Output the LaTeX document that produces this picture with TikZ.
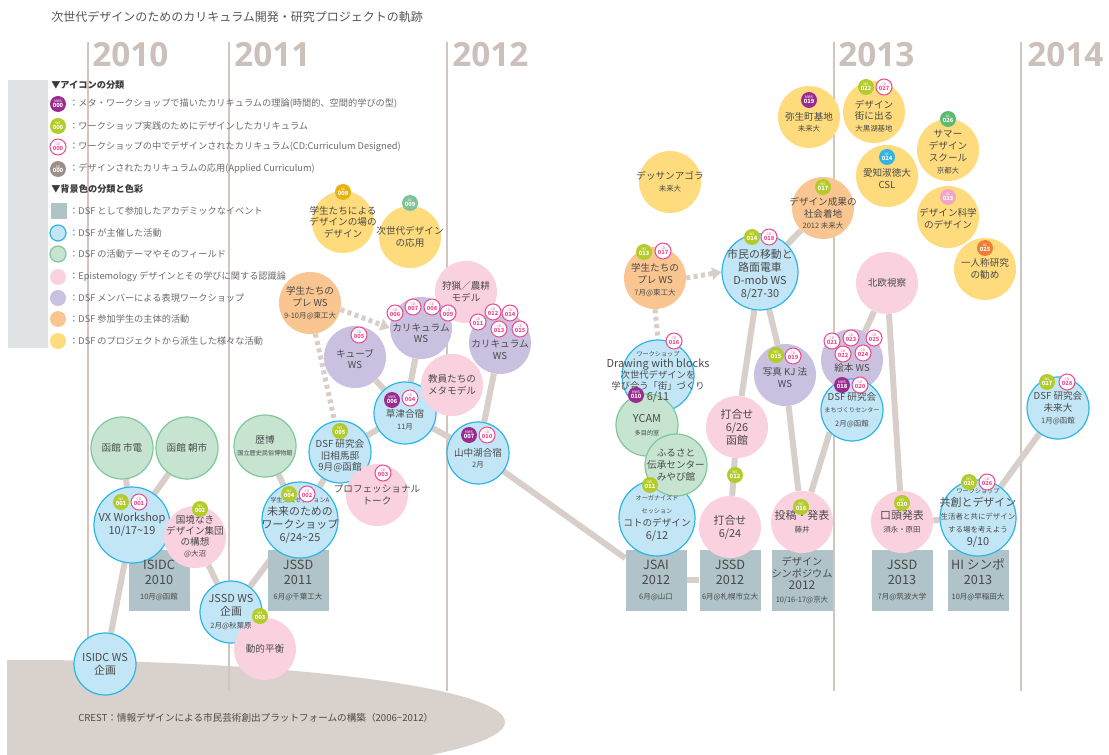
\documentclass[tikz,border=0pt]{standalone}
\usepackage{fontspec}
\setmainfont{Noto Sans CJK JP}
\newfontfamily\yearfont{Open Sans}
\usetikzlibrary{arrows.meta}
\pgfdeclarelayer{back}
\pgfdeclarelayer{conn}
\pgfdeclarelayer{circ}
\pgfsetlayers{back,conn,circ,main}
\definecolor{bluef}{HTML}{C3E6F6}
\definecolor{blued}{HTML}{2DB5E5}
\definecolor{grnf}{HTML}{C6E4CF}
\definecolor{grnd}{HTML}{80C79C}
\definecolor{pnkf}{HTML}{F9D1DF}
\definecolor{prpf}{HTML}{CAC0DF}
\definecolor{orgf}{HTML}{F9C591}
\definecolor{yelf}{HTML}{FEDC7D}
\definecolor{boxf}{HTML}{AFC3C8}
\definecolor{linec}{HTML}{D8CFCA}
\definecolor{yearc}{HTML}{CBC0BA}
\definecolor{ylinec}{HTML}{CFC6C1}
\definecolor{txt}{HTML}{4A4A4A}
\definecolor{legc}{HTML}{6B6B6B}
\definecolor{headc}{HTML}{3A3A3A}
\definecolor{titc}{HTML}{555555}
\definecolor{mwsc}{HTML}{9B2B8E}
\definecolor{wsc}{HTML}{B3CB2B}
\definecolor{cdc}{HTML}{EA4D92}
\definecolor{acgray}{HTML}{9A9089}
\definecolor{acgold}{HTML}{E7B30F}
\definecolor{acgreen}{HTML}{7DC596}
\definecolor{acblue}{HTML}{30B4E4}
\definecolor{acgreenb}{HTML}{5DBA72}
\definecolor{acpink}{HTML}{F2A5C5}
\definecolor{acorange}{HTML}{EE7E35}
\definecolor{bandc}{HTML}{DFE3E4}
\definecolor{ellc}{HTML}{D9D1CC}
\newcommand{\Fm}{\fontsize{7.2}{8.8}\selectfont}
\newcommand{\Fb}{\fontsize{8.2}{9.8}\selectfont}
\newcommand{\Fs}{\fontsize{5.6}{7}\selectfont}
\newcommand{\Ft}{\fontsize{4.6}{5.6}\selectfont}
\newcommand{\Fx}{\fontsize{9.5}{11.2}\selectfont}
\newcommand{\Fl}{\fontsize{6.9}{8}\selectfont}
\newcommand{\bdg}[5]{\node[bdg,#3] (#1) at (#2) {{\fontsize{2.6}{2.8}\selectfont #4}\\[-0.4pt]{\fontsize{4.3}{4.3}\selectfont\bfseries #5}};}
\newcommand{\bub}[5][]{\begin{pgfonlayer}{circ}\node[#2] (#3) at (#4) {};\end{pgfonlayer}\node[txtn,#1] (#3t) at (#4) {#5};}
\begin{document}
\begin{tikzpicture}[x=0.75pt,y=-0.75pt,
 cir/.style={circle, inner sep=0pt, minimum size=46.5pt},
 bigc/.style={minimum size=57pt},
 blu/.style={cir, fill=bluef, draw=blued, line width=0.9pt},
 grn/.style={cir, fill=grnf, draw=grnd, line width=0.9pt},
 pnk/.style={cir, fill=pnkf},
 prp/.style={cir, fill=prpf},
 org/.style={cir, fill=orgf},
 yel/.style={cir, fill=yelf},
 gbox/.style={rectangle, fill=boxf, inner sep=0pt, minimum width=45.75pt, minimum height=45.75pt},
 txtn/.style={align=center, inner sep=0pt, text=txt, font=\Fm},
 cn/.style={draw=linec, line width=4.5pt},
 dt/.style={draw=linec, line width=3.8pt, dash pattern=on 3pt off 2.6pt},
 dta/.style={dt, -{Triangle[length=7pt,width=9pt]}},
 bdg/.style={circle, inner sep=0pt, minimum size=12pt, align=center, font=\fontsize{3}{3.2}\selectfont},
 mws/.style={fill=mwsc, text=white},
 wsb/.style={fill=wsc, text=white},
 cdb/.style={fill=white, draw=cdc, line width=0.8pt, text=cdc},
 acb/.style={fill=#1, text=white},
 yearlab/.style={anchor=base west, inner sep=0pt, text=yearc, font=\yearfont\bfseries\fontsize{25}{25}\selectfont},
 ltext/.style={anchor=west, inner sep=0pt, text=legc, font=\Fl},
 lhead/.style={anchor=west, inner sep=0pt, text=headc, font=\Fl\bfseries},
 licon/.style={inner sep=0pt, minimum size=12pt}
]
\useasboundingbox (0,0) rectangle (1109,755);
\begin{pgfonlayer}{back}
\fill[white] (0,0) rectangle (1109,755);
\begin{scope}
\clip (7,0) rectangle (1109,755);
\fill[ellc] (20,722) ellipse [x radius=363.75pt, y radius=46.5pt];
\end{scope}
\fill[bandc] (8,80) rectangle (48,348);
\foreach \xx in {88,229,447,834,1021} \draw[ylinec, line width=1.5pt] (\xx,42) -- (\xx,691);
\end{pgfonlayer}

% title and years
\node[anchor=west, inner sep=0pt, text=titc, font=\fontsize{9}{11}\selectfont] (title) at (51,17) {次世代デザインのためのカリキュラム開発・研究プロジェクトの軌跡};
\node[yearlab] (y2010) at (92,67) {2010};
\node[yearlab] (y2011) at (234,67) {2011};
\node[yearlab] (y2012) at (452,67) {2012};
\node[yearlab] (y2013) at (838,67) {2013};
\node[yearlab] (y2014) at (1027,67) {2014};
\node[anchor=west, inner sep=0pt, text=txt, font=\fontsize{7.2}{8}\selectfont] (crest) at (78,718) {CREST：情報デザインによる市民芸術創出プラットフォームの構築（2006\textasciitilde2012）};

% legend
\node[lhead] (lh1) at (51,85) {▼アイコンの分類};
\bdg{lg1}{58,104}{mws}{MWS}{000}
\node[ltext] (lt1) at (69,104) {：メタ・ワークショップで描いたカリキュラムの理論(時間的、空間的学びの型)};
\bdg{lg2}{58,126}{wsb}{WS}{000}
\node[ltext] (lt2) at (69,126) {：ワークショップ実践のためにデザインしたカリキュラム};
\bdg{lg3}{58,147}{cdb}{CD}{000}
\node[ltext] (lt3) at (69,147) {：ワークショップの中でデザインされたカリキュラム(CD:Curriculum Designed)};
\bdg{lg4}{58,169}{acb=acgray}{AD}{000}
\node[ltext] (lt4) at (69,169) {：デザインされたカリキュラムの応用(Applied Curriculum)};
\node[lhead] (lh2) at (51,189) {▼背景色の分類と色彩};
\node[licon, fill=boxf] (lg5) at (59,211) {};
\node[ltext] (lt5) at (69,211) {：DSF として参加したアカデミックなイベント};
\node[licon, circle, fill=bluef, draw=blued, line width=0.9pt] (lg6) at (58,233) {};
\node[ltext] (lt6) at (69,233) {：DSF が主催した活動};
\node[licon, circle, fill=grnf, draw=grnd, line width=0.9pt] (lg7) at (58,254) {};
\node[ltext] (lt7) at (69,254) {：DSF の活動テーマやそのフィールド};
\node[licon, circle, fill=pnkf] (lg8) at (58,277) {};
\node[ltext] (lt8) at (69,277) {：Epistemology デザインとその学びに関する認識論};
\node[licon, circle, fill=prpf] (lg9) at (58,298) {};
\node[ltext] (lt9) at (69,298) {：DSF メンバーによる表現ワークショップ};
\node[licon, circle, fill=orgf] (lg10) at (58,319) {};
\node[ltext] (lt10) at (69,319) {：DSF 参加学生の主体的活動};
\node[licon, circle, fill=yelf] (lg11) at (58,341) {};
\node[ltext] (lt11) at (69,341) {：DSF のプロジェクトから派生した様々な活動};

% boxes
\bub[font=\Fx]{gbox}{isidc}{159,580}{ISIDC\\2010\\{\Fs 10月@函館}}
\bub[font=\Fx]{gbox}{jssd11}{298,580}{JSSD\\2011\\{\Fs 6月@千葉工大}}
\bub[font=\Fx]{gbox}{jsai}{656,580}{JSAI\\2012\\{\Fs 6月@山口}}
\bub[font=\Fx]{gbox}{jssd12}{730,580}{JSSD\\2012\\{\Fs 6月@札幌市立大}}
\bub[font=\fontsize{7.6}{9.2}\selectfont]{gbox}{sympo}{802,580}{デザイン\\シンポジウム\\{\fontsize{9}{9}\selectfont 2012}\\{\Fs 10/16-17@京大}}
\bub[font=\Fx]{gbox}{jssd13}{902,580}{JSSD\\2013\\{\Fs 7月@筑波大学}}
\bub[font=\Fx]{gbox}{hisym}{978,580}{HI シンポ\\2013\\{\Fs 10月@早稲田大}}

% 2010-2011
\bub{grn}{hakoden}{122,448}{函館 市電}
\bub{grn}{asaichi}{187,448}{函館 朝市}
\bub[font=\Fb]{blu,bigc}{vx}{132,525}{VX Workshop\\10/17\textasciitilde19}
\bub[font=\fontsize{7.2}{8.3}\selectfont]{pnk}{kokkyo}{195,537}{国境なき\\デザイン集団\\の構想\\{\Fs @大沼}}
\bub[font=\Fb]{blu}{isidcws}{105,664}{ISIDC WS\\企画}
\bub[font=\Fb]{blu}{jssdws}{231,612}{JSSD WS\\企画\\{\Fs 2月@秋葉原}}
\bub{pnk}{doteki}{265,649}{動的平衡}
\bub{grn}{rekihaku}{265,446}{歴博\\{\Ft 国立歴史民俗博物館}}
\bub[font=\Fb]{blu,bigc}{mirai}{300,520}{{\Ft 学生交流セッションA}\\未来のための\\ワークショップ\\6/24\textasciitilde25}
\bub[yshift=-3pt]{blu}{souma}{340,452}{DSF 研究会\\旧相馬邸\\9月@函館}
\bub{pnk}{prof}{377,495}{プロフェッショナル\\トーク}
\bub[yshift=-5pt]{blu}{kusatsu}{405,413}{草津合宿\\{\Fs 11月}}
\bub{pnk}{kyoin}{452,385}{教員たちの\\メタモデル}
\bub[yshift=-1.5pt]{prp}{cube}{355,357}{キューブ\\WS}
\bub{pnk}{shuryo}{466,292}{狩猟／農耕\\モデル}
\bub[yshift=-4pt]{prp}{curr1}{421,328}{カリキュラム\\WS}
\bub[yshift=-5pt]{prp}{curr2}{500,343}{カリキュラム\\WS}
\bub[yshift=-4pt]{blu}{yamanaka}{478,453}{山中湖合宿\\{\Fs 2月}}
\bub{org}{pre1}{310,303}{学生たちの\\プレ WS\\{\Fs 9-10月@東工大}}
\bub{yel}{bano}{343,222}{学生たちによる\\デザインの場の\\デザイン}
\bub{yel}{jisedai}{410,237}{次世代デザイン\\の応用}

% 2012
\bub{yel}{dessan}{670,182}{デッサンアゴラ\\{\Fs 未来大}}
\bub[yshift=-1.5pt]{org}{pre2}{655,278}{学生たちの\\プレ WS\\{\Fs 7月@東工大}}
\bub[font=\Fb,yshift=-2pt]{blu,bigc}{dmob}{760,272}{市民の移動と\\路面電車\\D-mob WS\\8/27-30}
\begin{pgfonlayer}{circ}
\node[blu, minimum size=54pt] (dwb) at (658,376) {};
\end{pgfonlayer}
\node[txtn, font=\fontsize{7}{8.4}\selectfont] (dwbt) at (658,377) {{\Ft ワークショップ}\\{\Fb Drawing with blocks}\\次世代デザインを\\学び合う「街」づくり\\{\Fb 6/11}};
\bub[font=\Fb]{grn}{ycam}{647,425}{YCAM\\{\Ft 多目的室}}
\bub[font=\Fb]{blu,bigc}{koto}{657,518}{{\Ft オーガナイズド}\\{\Ft セッション}\\{\Fm コトのデザイン}\\6/12}
\bub{grn}{furusato}{676,465}{ふるさと\\伝承センター\\みやび館}
\bub[font=\Fb]{pnk}{uchi26}{737,427}{打合せ\\6/26\\函館}
\bub[font=\Fb]{pnk}{uchi24}{730,527}{打合せ\\6/24}
\bub[yshift=-2pt]{prp}{kj}{785,375}{写真 KJ 法\\WS}
\bub[font=\Fb]{pnk}{toko}{802,522}{投稿・発表\\{\Fs 藤井}}
\bub[yshift=-4pt]{org}{seika}{823,208}{デザイン成果の\\社会着地\\{\Fs 2012 未来大}}

% 2013
\bub[yshift=-4pt]{yel}{yayoi}{809,117}{弥生町基地\\{\Fs 未来大}}
\bub[yshift=-3pt]{yel}{machideru}{874,112}{デザイン\\街に出る\\{\Fs 大黒湖基地}}
\bub[yshift=-2pt]{yel}{aichi}{887,176}{愛知淑徳大\\CSL}
\bub[yshift=-1.5pt]{yel}{summer}{948,150}{サマー\\デザイン\\スクール\\{\Fs 京都大}}
\bub[yshift=-1.5pt]{yel}{kagaku}{948,217}{デザイン科学\\のデザイン}
\bub{yel}{ichinin}{985,269}{一人称研究\\の勧め}
\bub{pnk}{hokuo}{887,283}{北欧視察}
\bub[yshift=-6pt]{prp}{ehon}{852,360}{絵本 WS}
\bub{blu}{machi}{852,410}{DSF 研究会\\{\Ft まちづくりセンター}\\[2pt]{\Fs 2月@函館}}
\bub[font=\Fb]{pnk}{kotou}{902,522}{口頭発表\\{\Fs 須永・原田}}
\bub[font=\Fb]{blu,bigc}{kyoso}{978,518}{{\Ft ワークショップ}\\共創とデザイン\\{\Fs 生活者と共にデザイン}\\{\Fs する場を考えよう}\\9/10}
\bub{blu}{dsfmirai}{1058,408}{DSF 研究会\\未来大\\{\Fs 1月@函館}}

% connectors
\begin{pgfonlayer}{conn}
\draw[cn] (hakoden) -- (vx);
\draw[cn] (asaichi) -- (vx);
\draw[cn] (vx) -- (isidcws);
\draw[cn] (kokkyo) -- (jssdws);
\draw[cn] (jssdws) -- (mirai);
\draw[cn] (rekihaku) -- (mirai);
\draw[cn] (mirai) -- (souma);
\draw[cn] (souma) -- (kusatsu);
\draw[cn] (kusatsu) -- (cube);
\draw[cn] (kusatsu) -- (curr1);
\draw[cn] (kusatsu) -- (yamanaka);
\draw[cn] (yamanaka) -- (curr2);
\draw[cn] (yamanaka) -- (jsai);
\draw[cn] (jsai) -- (jssd12);
\draw[cn] (uchi24) -- (uchi26);
\draw[cn] (dmob) -- (uchi26);
\draw[cn] (dmob) -- (kj);
\draw[cn] (kj) -- (toko);
\draw[cn] (dmob) -- (seika);
\draw[cn] (toko) -- (machi.south west);
\draw[cn] (hokuo) -- (ehon);
\draw[cn] (hokuo) -- (kotou);
\draw[cn] (kotou) -- (kyoso);
\draw[cn] (kyoso) -- (dsfmirai);
\draw[dta] (pre1.-12) -- (curr1.west);
\draw[dt] (pre1.-80) -- (souma.100);
\draw[dta] (pre2.east) -- (dmob.west);
\draw[dt] (pre2.south) -- (dwb.north);
\end{pgfonlayer}

% badges
\bdg{w001}{121,502}{wsb}{WS}{001}
\bdg{c001}{139,502}{cdb}{CD}{001}
\bdg{w002}{200,509}{wsb}{WS}{002}
\bdg{w003}{260,616}{wsb}{WS}{003}
\bdg{w004}{289,494}{wsb}{WS}{004}
\bdg{c002}{307,494}{cdb}{CD}{002}
\bdg{w005}{340,431}{wsb}{WS}{005}
\bdg{c003}{383,473}{cdb}{CD}{003}
\bdg{m006}{392,400}{mws}{MWS}{006}
\bdg{c004}{410,398}{cdb}{CD}{004}
\bdg{c005}{359,335}{cdb}{CD}{005}
\bdg{c006}{395,313}{cdb}{CD}{006}
\bdg{c007}{413,307}{cdb}{CD}{007}
\bdg{c008}{432,307}{cdb}{CD}{008}
\bdg{c009}{448,313}{cdb}{CD}{009}
\bdg{c011}{478,322}{cdb}{CD}{011}
\bdg{c012}{493,312}{cdb}{CD}{012}
\bdg{c013}{499,329}{cdb}{CD}{013}
\bdg{c014}{510,313}{cdb}{CD}{014}
\bdg{c015}{520,329}{cdb}{CD}{015}
\bdg{m007}{469,435}{mws}{MWS}{007}
\bdg{c010}{487,435}{cdb}{CD}{010}
\bdg{a008}{343,192}{acb=acgold}{AC}{008}
\bdg{a009}{410,203}{acb=acgreen}{AC}{009}
\bdg{w013}{644,252}{wsb}{WS}{013}
\bdg{c017}{663,251}{cdb}{CD}{017}
\bdg{w014}{752,237}{wsb}{WS}{014}
\bdg{c018}{769,237}{cdb}{CD}{018}
\bdg{w017}{823,187}{wsb}{WS}{017}
\bdg{c016}{674,341}{cdb}{CD}{016}
\bdg{m010}{636,395}{mws}{MWS}{010}
\bdg{w011}{650,485}{wsb}{WS}{011}
\bdg{w012}{735,475}{wsb}{WS}{012}
\bdg{w015}{776,355}{wsb}{WS}{015}
\bdg{c019}{793,356}{cdb}{CD}{019}
\bdg{w016}{801,507}{wsb}{WS}{016}
\bdg{c021}{832,341}{cdb}{CD}{021}
\bdg{c023}{851,338}{cdb}{CD}{023}
\bdg{c025}{874,338}{cdb}{CD}{025}
\bdg{c022}{843,354}{cdb}{CD}{022}
\bdg{c024}{863,353}{cdb}{CD}{024}
\bdg{m018}{842,385}{mws}{MWS}{018}
\bdg{c020}{860,385}{cdb}{CD}{020}
\bdg{m019}{809,100}{mws}{MWS}{019}
\bdg{w022}{866,87}{wsb}{WS}{022}
\bdg{c027}{884,87}{cdb}{CD}{027}
\bdg{a026}{948,119}{acb=acgreenb}{AC}{026}
\bdg{a024}{887,157}{acb=acblue}{AC}{024}
\bdg{a025}{948,197}{acb=acpink}{AC}{025}
\bdg{a025b}{985,248}{acb=acorange}{AC}{025}
\bdg{w020}{902,503}{wsb}{WS}{020}
\bdg{w020b}{969,482}{wsb}{WS}{020}
\bdg{c026}{987,482}{cdb}{CD}{026}
\bdg{w027}{1047,382}{wsb}{WS}{027}
\bdg{c028}{1067,382}{cdb}{CD}{028}
\end{tikzpicture}
\end{document}
